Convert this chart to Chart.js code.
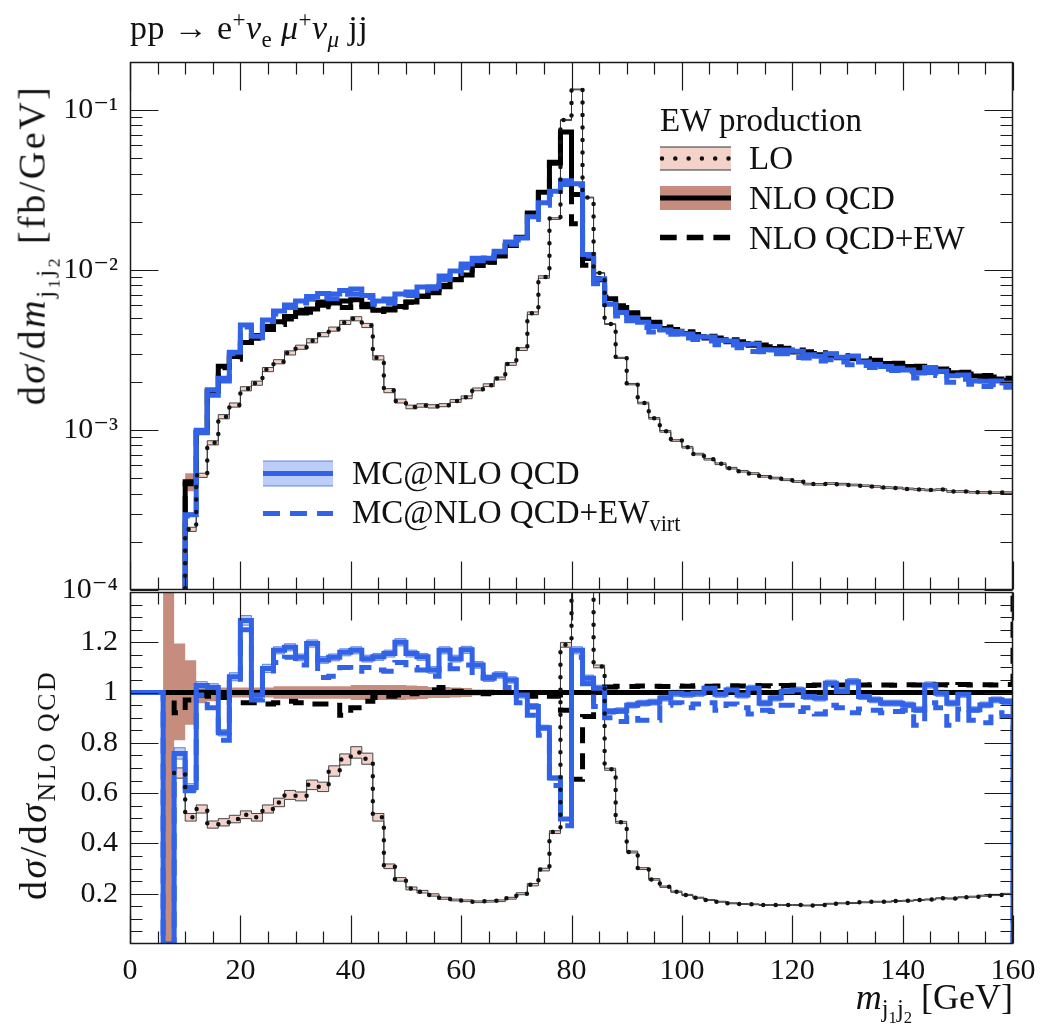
<!DOCTYPE html>
<html>
<head>
<meta charset="utf-8">
<script src="https://cdn.jsdelivr.net/npm/chart.js@4.4.1/dist/chart.umd.min.js"></script>
<style>
html, body { margin: 0; padding: 0; background: #fff; }
#wrap { position: relative; width: 1046px; height: 1033px; overflow: hidden;
        font-family: 'Liberation Serif', 'DejaVu Serif', serif; color: #111; }
canvas { position: absolute; left: 0; }
.t { position: absolute; white-space: nowrap; line-height: 1; }
.rot { position: absolute; white-space: nowrap; line-height: 1; letter-spacing: 2.5px;
       transform: translate(-50%, -50%) rotate(-90deg); }
sub, sup { line-height: 0; font-size: 68%; }
</style>
</head>
<body>
<div id="wrap">
  <canvas id="top" width="1046" height="620" style="top:0"></canvas>
  <canvas id="bottom" width="1046" height="473" style="top:560px"></canvas>

  <div class="t" style="left:130px; top:11px; font-size:34px; letter-spacing:0.4px">pp &rarr; e<sup>+</sup><i>ν</i><sub>e</sub> <i>μ</i><sup>+</sup><i>ν</i><sub><i>μ</i></sub> jj</div>

  <div class="t" style="left:660px; top:104px; font-size:33px">EW production</div>
  <div class="t" style="left:749px; top:142px; font-size:33px">LO</div>
  <div class="t" style="left:749px; top:182px; font-size:33px">NLO QCD</div>
  <div class="t" style="left:749px; top:222px; font-size:33px">NLO QCD+EW</div>

  <div class="t" style="left:352px; top:457px; font-size:33px">MC@NLO QCD</div>
  <div class="t" style="left:352px; top:496px; font-size:33px">MC@NLO QCD+EW<sub>virt</sub></div>

  <div class="rot" style="left:33px; top:245px; font-size:38px">d<i>σ</i>/d<i>m</i><sub>j<sub>1</sub>j<sub>2</sub></sub> [fb/GeV]</div>
  <div class="rot" style="left:33px; top:785px; font-size:38px">d<i>σ</i>/d<i>σ</i><sub>NLO QCD</sub></div>

  <div class="t" style="right:33px; top:979px; font-size:36px"><i>m</i><sub>j<sub>1</sub>j<sub>2</sub></sub> [GeV]</div>
</div>

<script>
// ── Data ─────────────────────────────────────────────
// bin edges of m_j1j2 [GeV], 2 GeV bins
const binEdges = [0,2,4,6,8,10,12,14,16,18,20,22,24,26,28,30,32,34,36,38,40,
  42,44,46,48,50,52,54,56,58,60,62,64,66,68,70,72,74,76,78,80,
  82,84,86,88,90,92,94,96,98,100,102,104,106,108,110,112,114,116,118,120,
  122,124,126,128,130,132,134,136,138,140,142,144,146,148,150,152,154,156,158,160];

// NLO QCD, dsigma/dm [fb/GeV]
const nloQcd = [null,null,null,null,6e-5,
  4.75e-4,9.7e-4,1.75e-3,2.5e-3,2.88e-3,
  3.52e-3,3.89e-3,4.44e-3,4.74e-3,5.11e-3,
  5.6e-3,5.7e-3,6.3e-3,6.2e-3,6.4e-3,
  6.5e-3,6.1e-3,5.6e-3,5.7e-3,5.9e-3,
  6.3e-3,6.84e-3,7.2e-3,7.85e-3,8.67e-3,
  9.3e-3,1.067e-2,1.12e-2,1.22e-2,1.42e-2,
  1.6e-2,2.27e-2,3.05e-2,4.7e-2,7.26e-2,
  2.96e-2,1.18e-2,8.67e-3,6.6e-3,5.83e-3,
  5.28e-3,4.91e-3,4.6e-3,4.3e-3,4.13e-3,
  4.0e-3,3.84e-3,3.75e-3,3.66e-3,3.56e-3,
  3.47e-3,3.38e-3,3.31e-3,3.23e-3,3.15e-3,
  3.07e-3,3.0e-3,2.95e-3,2.89e-3,2.83e-3,
  2.78e-3,2.7e-3,2.64e-3,2.6e-3,2.54e-3,
  2.49e-3,2.43e-3,2.38e-3,2.33e-3,2.28e-3,
  2.22e-3,2.17e-3,2.12e-3,2.08e-3,2.04e-3];

// ratios to NLO QCD
const ratioLO = [null,null,null,null,0.68,0.504,0.537,0.475,0.484,0.497,
  0.514,0.504,0.537,0.563,0.593,0.587,0.633,0.625,0.688,0.734,
  0.762,0.737,0.504,0.309,0.257,0.221,0.208,0.195,0.182,0.175,
  0.172,0.168,0.170,0.172,0.182,0.200,0.236,0.296,0.445,1.19,
  4.53,2.40,1.104,0.695,0.484,0.366,0.300,0.257,0.228,0.208,
  0.195,0.184,0.175,0.168,0.162,0.159,0.158,0.155,0.155,0.155,
  0.155,0.153,0.155,0.160,0.162,0.163,0.166,0.168,0.168,0.171,
  0.172,0.175,0.177,0.182,0.181,0.186,0.188,0.192,0.195,0.199];

const ratioNloEw = [1,1,1,1,0.92,0.97,0.99,0.985,0.98,0.96,
  0.96,0.96,0.955,0.96,0.965,0.96,0.955,0.955,0.95,0.91,
  0.94,0.965,0.98,0.985,0.99,0.995,1.0,1.01,1.02,1.005,
  1.0,1.0,0.995,1.0,1.0,0.995,0.985,0.99,0.985,0.93,
  0.655,0.905,1.02,1.022,1.025,1.024,1.026,1.025,1.024,1.026,
  1.025,1.027,1.025,1.026,1.027,1.026,1.028,1.027,1.026,1.028,
  1.029,1.028,1.03,1.029,1.03,1.028,1.03,1.031,1.03,1.029,
  1.031,1.03,1.03,1.031,1.03,1.032,1.03,1.031,1.03,1.032];

const ratioMc = [1,1,1,0,0.758,0.622,1.028,1.02,0.84,1.063,
  1.287,0.99,1.096,1.168,1.18,1.14,1.195,1.13,1.14,1.16,
  1.168,1.135,1.142,1.155,1.2,1.155,1.142,1.09,1.168,1.135,
  1.17,1.11,1.057,1.07,1.05,0.99,0.945,0.86,0.66,0.497,
  1.168,1.057,1.017,0.925,0.928,0.95,0.958,0.962,0.978,0.997,
  0.993,0.997,1.017,0.993,1.01,0.99,1.017,0.958,0.978,1.004,
  1.01,0.984,0.978,1.037,1.004,1.043,0.984,0.971,0.958,0.958,
  0.951,0.932,1.03,0.997,0.958,0.993,0.932,0.951,0.971,0.964];

const ratioMcEw = [1,1,1,0,0.74,0.61,0.99,0.94,0.81,1.04,
  1.25,0.97,1.07,1.12,1.14,1.11,1.15,1.06,1.065,1.10,
  1.085,1.10,1.09,1.085,1.12,1.10,1.09,1.065,1.11,1.095,
  1.11,1.07,1.06,1.06,1.02,0.96,0.91,0.83,0.63,0.47,
  1.14,1.035,0.945,0.90,0.885,0.91,0.89,0.89,0.95,0.96,
  0.94,0.955,0.96,0.93,0.955,0.94,0.915,0.93,0.925,0.95,
  0.925,0.94,0.915,0.95,0.94,0.92,0.935,0.93,0.92,0.925,
  0.93,0.87,0.96,0.94,0.87,0.935,0.89,0.88,0.92,0.905];

// NLO QCD scale band, as ratio to NLO QCD
const nloBandLo = [null,null,null,0,0.81,0.872,0.958,0.965,0.98,0.98,
  0.98,0.98,0.98,0.975,0.975,0.975,0.975,0.975,0.975,0.975,
  0.97,0.97,0.97,0.97,0.97,0.972,0.974,0.978,0.978,0.98,
  0.982,0.988,0.988,0.99,0.99,0.992,0.995,0.995,0.995,0.995,
  0.995,0.995,0.995,0.995,0.995,0.995,0.995,0.995,0.995,0.995,
  0.995,0.995,0.995,0.995,0.995,0.995,0.995,0.995,0.995,0.995,
  0.995,0.995,0.995,0.995,0.995,0.995,0.995,0.995,0.995,0.995,
  0.995,0.995,0.995,0.995,0.995,0.995,0.995,0.995,0.995,0.995];
const nloBandHi = [null,null,null,2,1.195,1.129,1.017,1.03,1.02,1.02,
  1.02,1.02,1.02,1.025,1.025,1.025,1.025,1.025,1.025,1.025,
  1.03,1.03,1.03,1.03,1.03,1.028,1.026,1.022,1.022,1.02,
  1.018,1.012,1.012,1.01,1.01,1.008,1.005,1.005,1.005,1.005,
  1.005,1.005,1.005,1.005,1.005,1.005,1.005,1.005,1.005,1.005,
  1.005,1.005,1.005,1.005,1.005,1.005,1.005,1.005,1.005,1.005,
  1.005,1.005,1.005,1.005,1.005,1.005,1.005,1.005,1.005,1.005,
  1.005,1.005,1.005,1.005,1.005,1.005,1.005,1.005,1.005,1.005];

// relative half widths of LO and MC@NLO bands
const loBandRel = [0,0,0,0,0.03,0.03,0.03,0.03,0.03,0.03,
  0.03,0.03,0.03,0.03,0.03,0.03,0.03,0.03,0.03,0.03,
  0.03,0.03,0.03,0.03,0.028,0.026,0.025,0.024,0.022,0.02,
  0.02,0.02,0.02,0.02,0.02,0.02,0.02,0.018,0.012,0.008,
  0.006,0.006,0.005,0.006,0.008,0.01,0.012,0.012,0.012,0.012,
  0.012,0.012,0.012,0.012,0.012,0.012,0.012,0.012,0.012,0.012,
  0.012,0.012,0.012,0.012,0.012,0.012,0.012,0.012,0.012,0.012,
  0.012,0.012,0.012,0.012,0.012,0.012,0.012,0.012,0.012,0.012];
const mcBandRel = [0,0,0,0,0.03,0.025,0.015,0.015,0.015,0.015,
  0.015,0.015,0.015,0.012,0.012,0.012,0.012,0.012,0.012,0.012,
  0.012,0.012,0.012,0.012,0.012,0.012,0.012,0.012,0.012,0.012,
  0.012,0.012,0.012,0.012,0.012,0.012,0.012,0.012,0.012,0.012,
  0.012,0.012,0.012,0.012,0.012,0.012,0.012,0.012,0.012,0.012,
  0.012,0.012,0.012,0.012,0.012,0.012,0.012,0.012,0.012,0.012,
  0.012,0.012,0.012,0.012,0.012,0.012,0.012,0.012,0.012,0.012,
  0.012,0.012,0.012,0.012,0.012,0.012,0.012,0.012,0.012,0.012];

// ticks
const xMajorTicks = [0,20,40,60,80,100,120,140,160];
const xMinorTicks = [5,10,15,25,30,35,45,50,55,65,70,75,85,90,95,105,110,115,125,130,135,145,150,155];
const topYTicks = [1e-4,1e-3,1e-2,1e-1];
const topYLabels = ['10\u207B\u2074','10\u207B\u00B3','10\u207B\u00B2','10\u207B\u00B9'];
const ratioYTicks = [0.2,0.4,0.6,0.8,1,1.2];

const FONT = "'Liberation Serif', 'DejaVu Serif', serif";
const BLUE = '#3263e6';

// ── helpers ──────────────────────────────────────────
const mul = (a, b) => a.map((v, i) => (v == null || b[i] == null) ? null : v * b[i]);
const scaleBy = (a, rel, sign) => a.map((v, i) => v == null ? null : v * (1 + sign * rel[i]));

function steps(vals, close) {
    const pts = vals.map((v, i) => ({ x: binEdges[i], y: v }));
    pts.push({ x: binEdges[vals.length], y: vals[vals.length - 1] });
    if (close !== undefined) pts.push({ x: binEdges[vals.length], y: close });
    return pts;
}

function line(data, o) {
    return Object.assign({ data, stepped: true, pointRadius: 0, tension: 0, fill: false,
        spanGaps: false, clip: 0, borderWidth: 5, borderColor: '#000',
        borderCapStyle: 'butt', borderJoinStyle: 'miter' }, o);
}

// s: {lo, nlo, nloEw, mc, mcEw, nloLo, nloHi, closeMc, closeNloEw}
function panelDatasets(s) {
    const loLo = scaleBy(s.lo, loBandRel, -1), loHi = scaleBy(s.lo, loBandRel, 1);
    const mcLo = scaleBy(s.mc, mcBandRel, -1), mcHi = scaleBy(s.mc, mcBandRel, 1);
    return [
        line(steps(s.lo), { borderColor: '#111', borderWidth: 4.5, borderDash: [0, 12.5], borderCapStyle: 'round' }),
        line(steps(s.mcEw, s.closeMc), { borderColor: BLUE, borderDash: [16, 10] }),
        line(steps(s.mc, s.closeMc), { borderColor: BLUE }),
        line(steps(s.nloEw, s.closeNloEw), { borderColor: '#000', borderDash: [16, 10] }),
        line(steps(s.nlo), { borderColor: '#000' }),
        line(steps(mcLo), { borderColor: 'rgba(50,99,230,0.75)', borderWidth: 1 }),
        line(steps(mcHi), { borderColor: 'rgba(50,99,230,0.75)', borderWidth: 1, fill: '-1', backgroundColor: 'rgba(80,125,235,0.38)' }),
        line(steps(loLo), { borderColor: '#333', borderWidth: 0.9 }),
        line(steps(loHi), { borderColor: '#333', borderWidth: 0.9, fill: '-1', backgroundColor: '#f3d2c9' }),
        line(steps(s.nloLo), { borderColor: 'rgba(0,0,0,0)', borderWidth: 1 }),
        line(steps(s.nloHi), { borderColor: 'rgba(0,0,0,0)', borderWidth: 1, fill: '-1', backgroundColor: '#c68d7f' })
    ];
}

// inward ticks on all four sides + frame
function makeFrame(yMajor, yMinor) {
    return {
        id: 'frame',
        afterDatasetsDraw(chart) {
            const { ctx, chartArea: a, scales } = chart;
            const px = v => Math.round(scales.x.getPixelForValue(v)) + 0.5;
            const py = v => Math.round(scales.y.getPixelForValue(v)) + 0.5;
            const L = Math.round(a.left) + 0.5, R = Math.round(a.right) - 0.5;
            const T = Math.round(a.top) + 0.5, B = Math.round(a.bottom) - 0.5;
            ctx.save();
            ctx.strokeStyle = '#1a1a1a';
            ctx.lineWidth = 1.2;
            ctx.beginPath();
            const xt = (v, l) => { const x = px(v); ctx.moveTo(x, B); ctx.lineTo(x, B - l); ctx.moveTo(x, T); ctx.lineTo(x, T + l); };
            const yt = (v, l) => { const y = py(v); ctx.moveTo(L, y); ctx.lineTo(L + l, y); ctx.moveTo(R, y); ctx.lineTo(R - l, y); };
            xMajorTicks.forEach(v => xt(v, 28));
            xMinorTicks.forEach(v => xt(v, 12));
            yMajor.forEach(v => yt(v, 28));
            yMinor.forEach(v => yt(v, 12));
            ctx.stroke();
            ctx.lineWidth = 1.5;
            ctx.strokeRect(L, T, R - L, B - T);
            ctx.restore();
        }
    };
}

// legend swatches (text is in the page)
const swatches = {
    id: 'swatches',
    afterDraw(chart) {
        const ctx = chart.ctx;
        ctx.save();
        const hline = (x0, x1, y, w, col, dash, cap) => {
            ctx.beginPath(); ctx.setLineDash(dash || []); ctx.lineCap = cap || 'butt';
            ctx.strokeStyle = col; ctx.lineWidth = w; ctx.moveTo(x0, y); ctx.lineTo(x1, y); ctx.stroke();
        };
        // LO
        ctx.fillStyle = '#f3d2c9'; ctx.fillRect(660, 147, 71, 23);
        hline(660, 731, 147, 1, '#333'); hline(660, 731, 170, 1, '#333');
        hline(662, 731, 158.5, 4.5, '#111', [0, 13.3], 'round');
        // NLO QCD
        ctx.fillStyle = '#c68d7f'; ctx.fillRect(660, 186, 71, 24);
        hline(660, 731, 198, 5, '#000');
        // NLO QCD+EW
        hline(660, 731, 237.5, 5.5, '#000', [16.7, 10]);
        // MC@NLO QCD
        ctx.fillStyle = 'rgba(80,125,235,0.38)'; ctx.fillRect(263, 461, 70, 25);
        hline(263, 333, 461, 1, 'rgba(50,99,230,0.75)'); hline(263, 333, 486, 1, 'rgba(50,99,230,0.75)');
        hline(263, 333, 473.5, 5, BLUE);
        // MC@NLO QCD+EW_virt
        hline(263, 333, 513.5, 5, BLUE, [17, 10]);
        ctx.restore();
    }
};

// minor tick positions
const topYMinor = [];
[1e-4, 1e-3, 1e-2, 1e-1].forEach(d => { for (let k = 2; k <= 9; k++) if (k * d < 0.199) topYMinor.push(k * d); });
const ratioYMinor = [];
for (let k = 1; k < 28; k++) if (k % 4 !== 0) ratioYMinor.push(k * 0.05);

// ── top panel: absolute ──────────────────────────────
const topSeries = {
    lo: mul(ratioLO, nloQcd),
    nlo: nloQcd,
    nloEw: mul(ratioNloEw, nloQcd),
    mc: mul(ratioMc, nloQcd),
    mcEw: mul(ratioMcEw, nloQcd),
    nloLo: mul(nloBandLo, nloQcd),
    nloHi: mul(nloBandHi, nloQcd),
    closeMc: 0
};

const tickFont = { family: FONT, size: 30 };

new Chart(document.getElementById('top'), {
    type: 'line',
    data: { datasets: panelDatasets(topSeries) },
    options: {
        responsive: false, animation: false, devicePixelRatio: 1,
        layout: { padding: { left: 0, right: 33, top: 62, bottom: 28 } },
        plugins: { legend: { display: false }, tooltip: { enabled: false } },
        scales: {
            x: { type: 'linear', min: 0, max: 160, display: false },
            y: {
                type: 'logarithmic', min: 1e-4, max: 0.199,
                afterFit: s => { s.width = 130; },
                afterBuildTicks: s => { s.ticks = topYTicks.map(v => ({ value: v })); },
                grid: { display: false, drawTicks: false }, border: { display: false },
                ticks: { font: tickFont, color: '#111', padding: 12, autoSkip: false,
                         callback: (v, i) => topYLabels[i] }
            }
        }
    },
    plugins: [makeFrame(topYTicks, topYMinor), swatches]
});

// ── bottom panel: ratio to NLO QCD ───────────────────
const nloRatio = ratioNloEw.map(() => 1);
const ratioSeries = {
    lo: ratioLO,
    nlo: nloRatio,
    nloEw: ratioNloEw,
    mc: ratioMc,
    mcEw: ratioMcEw,
    nloLo: nloBandLo,
    nloHi: nloBandHi,
    closeMc: 0,
    closeNloEw: 2
};

new Chart(document.getElementById('bottom'), {
    type: 'line',
    data: { datasets: panelDatasets(ratioSeries) },
    options: {
        responsive: false, animation: false, devicePixelRatio: 1,
        layout: { padding: { left: 0, right: 33, top: 32, bottom: 0 } },
        plugins: { legend: { display: false }, tooltip: { enabled: false } },
        scales: {
            x: {
                type: 'linear', min: 0, max: 160,
                afterFit: s => { s.height = 89; },
                afterBuildTicks: s => { s.ticks = xMajorTicks.map(v => ({ value: v })); },
                grid: { display: false, drawTicks: false }, border: { display: false },
                ticks: { font: tickFont, color: '#111', padding: 9, maxRotation: 0, autoSkip: false,
                         callback: v => String(v) }
            },
            y: {
                type: 'linear', min: 0, max: 1.4,
                afterFit: s => { s.width = 130; },
                afterBuildTicks: s => { s.ticks = ratioYTicks.map(v => ({ value: v })); },
                grid: { display: false, drawTicks: false }, border: { display: false },
                ticks: { font: tickFont, color: '#111', padding: 12, autoSkip: false,
                         callback: v => String(v) }
            }
        }
    },
    plugins: [makeFrame(ratioYTicks, ratioYMinor)]
});
</script>
</body>
</html>
